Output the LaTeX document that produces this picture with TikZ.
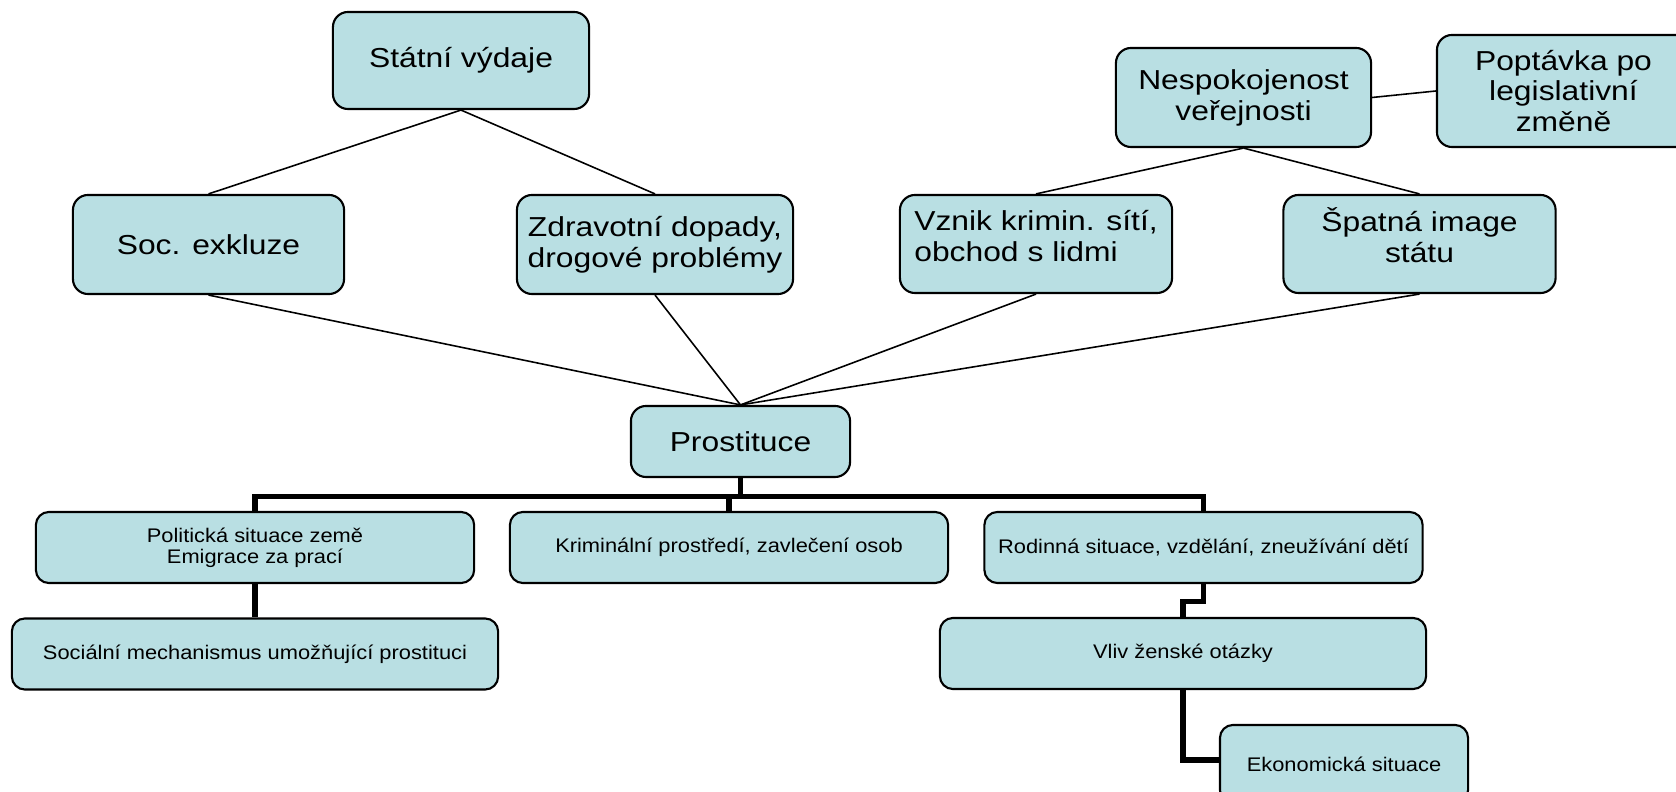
\documentclass[tikz,border=0pt]{standalone}
\usepackage{fontspec}
\newfontfamily\mainfam[FakeStretch=1.16]{Liberation Sans}
\newfontfamily\subfam[FakeStretch=1.11]{Liberation Sans}
\newcommand{\mainfnt}{\mainfam\fontsize{7.8pt}{8.8pt}\selectfont}
\newcommand{\subfnt}{\subfam\fontsize{5.6pt}{6pt}\selectfont}
\definecolor{pale-teal}{HTML}{B9DFE3}

\begin{document}
\begin{tikzpicture}[x=0.01cm, y=-0.01cm,
  box/.style={draw, line width=0.6pt, fill=pale-teal, inner sep=0pt, align=center},
  big/.style={box, font=\mainfnt, rounded corners=4.3pt},
  small/.style={box, font=\subfnt, rounded corners=3.7pt, minimum height=0.71cm},
  thin link/.style={line width=0.45pt},
  elbow/.style={line width=1.45pt, line join=miter}]
\useasboundingbox (0,0) rectangle (1676,792);

% upper part: causes and consequences
\node[big, minimum width=2.56cm, minimum height=0.97cm]
  (vydaje)
  at (461, 60.5)
  {Státní výdaje};
\node[big, minimum width=2.71cm, minimum height=0.99cm]
  (exkluze)
  at (208.5, 244.5)
  {Soc. exkluze};
\node[big, minimum width=2.76cm, minimum height=0.99cm]
  (zdravi)
  at (655, 244.5)
  {Zdravotní dopady,\\drogové problémy};
\node[big, minimum width=2.55cm, minimum height=0.99cm]
  (nespokojenost)
  at (1243.5, 97.5)
  {Nespokojenost\\veřejnosti};
\node[big, minimum width=2.53cm, minimum height=1.12cm]
  (poptavka)
  at (1563.5, 91)
  {Poptávka po\\legislativní\\změně};
\node[big, minimum width=2.72cm, minimum height=0.98cm, align=left, text depth=0.17cm]
  (site)
  at (1036, 244)
  {Vznik krimin. sítí,\\obchod s lidmi};
\node[big, minimum width=2.72cm, minimum height=0.98cm, text depth=0.17cm]
  (image)
  at (1419.5, 244)
  {Špatná image\\státu};
\node[big, minimum width=2.19cm, minimum height=0.71cm]
  (prostituce)
  at (740.5, 441.5)
  {Prostituce};

\draw[thin link] (vydaje.south) -- (exkluze.north);
\draw[thin link] (vydaje.south) -- (zdravi.north);
\draw[thin link] (nespokojenost.south) -- (site.north);
\draw[thin link] (nespokojenost.south) -- (image.north);
\draw[thin link] (nespokojenost.east) -- (poptavka.west);
\foreach \src in {exkluze, zdravi, site, image}
  \draw[thin link] (\src.south) -- (prostituce.north);

% lower part: hierarchy of factors
\foreach \name/\x/\phrase in {
    politika/255/{Politická situace země\\Emigrace za prací},
    kriminal/729/{Kriminální prostředí, zavlečení osob},
    rodina/1203.5/{Rodinná situace, vzdělání, zneužívání dětí}} {
  \node[small, minimum width=4.38cm]
    (\name)
    at (\x, 547.5)
    {\phrase};
}
\node[small, minimum width=4.86cm]
  (mechanismus)
  at (255, 654)
  {Sociální mechanismus umožňující prostituci};
\node[small, minimum width=4.86cm]
  (zeny)
  at (1183, 653.5)
  {Vliv ženské otázky};
\node[small, minimum width=2.48cm, minimum height=0.78cm]
  (ekonomika)
  at (1344, 764)
  {Ekonomická situace};

\draw[elbow] (prostituce.south) -- ++(0,18) coordinate (bar);
\draw[elbow] (politika.north) |- (bar) -| (rodina.north);
\draw[elbow] (kriminal.north) -- (kriminal.north |- bar);
\draw[elbow] (politika.south) -- (mechanismus.north);
\draw[elbow] (rodina.south) -- ++(0,17) -| (zeny.north);
\draw[elbow] (zeny.south) |- ([yshift=0.04cm]ekonomika.west);
\end{tikzpicture}
\end{document}
